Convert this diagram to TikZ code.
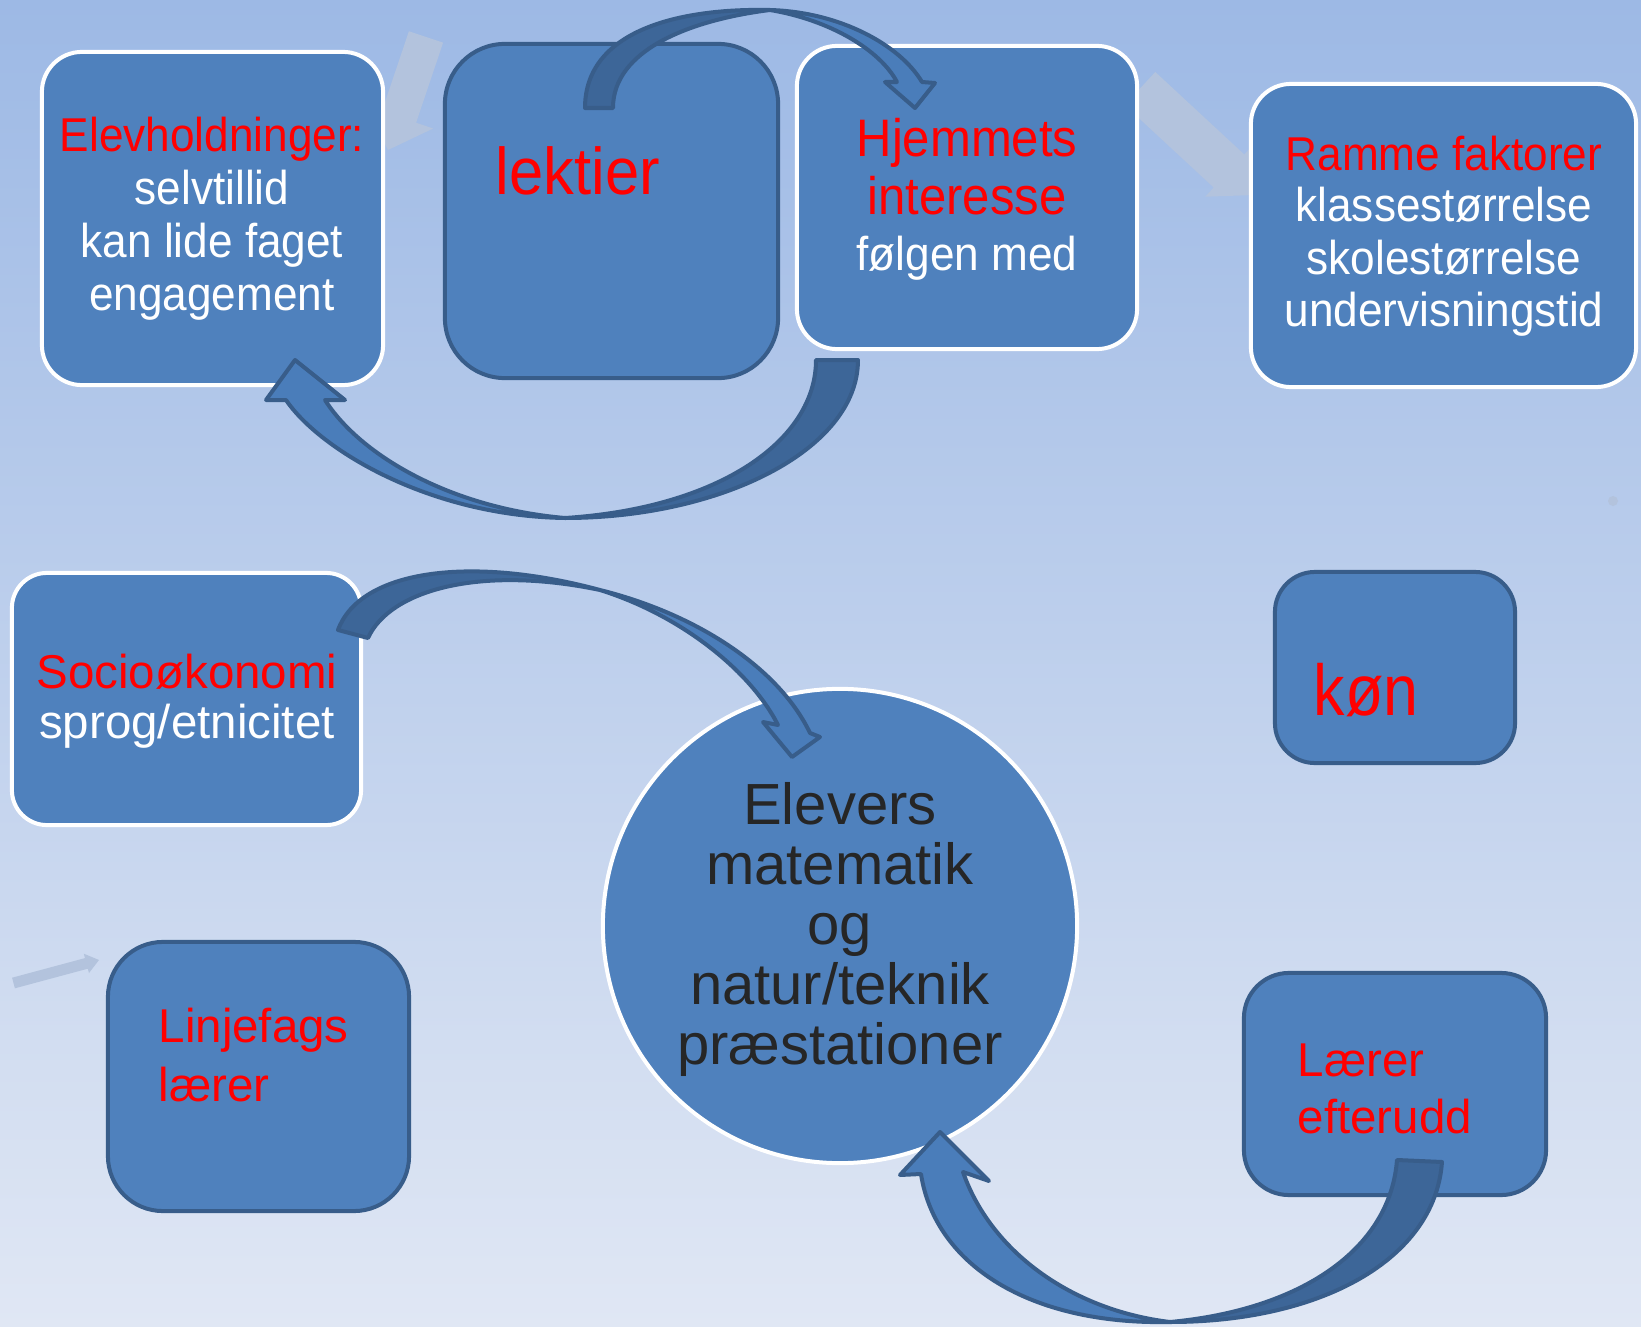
\documentclass[tikz,border=0pt]{standalone}
\usepackage{fontspec}
\setmainfont{Liberation Sans}
\newfontfamily\condfont[FakeStretch=0.93]{Liberation Sans}
\newfontfamily\konfont[FakeStretch=0.87]{Liberation Sans}
\definecolor{bgtop}{HTML}{9DB9E5}
\definecolor{bgbot}{HTML}{E0E7F4}
\definecolor{boxblue}{HTML}{4F81BD}
\definecolor{boxedge}{HTML}{385D8A}
\definecolor{arrback}{HTML}{3D6698}
\definecolor{arrfront}{HTML}{4A7DBA}
\definecolor{fadearrow}{HTML}{B3C3DD}
\definecolor{darktext}{HTML}{262626}

\begin{document}
\begin{tikzpicture}[x=0.01cm,y=-0.01cm,
  wbox/.style={fill=boxblue,draw=white,line width=0.04cm,inner sep=0},
  dbox/.style={fill=boxblue,draw=boxedge,line width=0.04cm,inner sep=0},
  back/.style={fill=arrback,draw=boxedge,line width=0.04cm,line join=round},
  front/.style={fill=arrfront,draw=boxedge,line width=0.04cm,line join=round},
  toptxt/.style={inner sep=0,align=center,anchor=base,font=\condfont\fontsize{13.5}{15}\selectfont},
  lowtxt/.style={inner sep=0,align=left,anchor=base west,text=red,font=\fontsize{13.5}{16}\selectfont}]
  \useasboundingbox (0,0) rectangle (1641,1327);
  \shade[top color=bgtop,bottom color=bgbot] (0,0) rectangle (1641,1327);

  \fill[fadearrow] (408.9,31.3) -- (443.1,42.7) -- (416.1,122.7) -- (433.1,128.5) -- (388,150)
    -- (364.9,105.5) -- (381.9,111.3) -- cycle;
  \fill[fadearrow] (1155.3,72) -- (1244.3,154.5) -- (1252.7,145.3) -- (1255,195)
    -- (1205.3,196.7) -- (1213.7,187.5) -- (1124.7,105) -- cycle;
  \fill[fadearrow] (12.1,977.7) -- (85,958.1) -- (83.8,953.7) -- (99,960)
    -- (89,973) -- (87.8,968.7) -- (14.9,988.3) -- cycle;
  \fill[fadearrow] (1613,501) circle (0.05cm);

  \node[wbox,minimum width=3.41cm,minimum height=3.33cm,rounded corners=0.4cm] (elev) at (212.5,218.5) {};
  \node[dbox,minimum width=3.33cm,minimum height=3.34cm,rounded corners=0.6cm] (lekt) at (611.5,211) {};
  \node[wbox,minimum width=3.40cm,minimum height=3.03cm,rounded corners=0.4cm] (hjem) at (967,197.5) {};
  \node[wbox,minimum width=3.85cm,minimum height=3.03cm,rounded corners=0.4cm] (ramme) at (1443.5,235.5) {};
  \node[wbox,minimum width=3.49cm,minimum height=2.52cm,rounded corners=0.35cm] (socio) at (186.5,699) {};
  \node[dbox,minimum width=3.01cm,minimum height=2.69cm,rounded corners=0.55cm] (linje) at (258.5,1076.5) {};
  \node[dbox,minimum width=2.40cm,minimum height=1.91cm,rounded corners=0.4cm] (kon) at (1395,667.5) {};
  \node[dbox,minimum width=3.02cm,minimum height=2.22cm,rounded corners=0.45cm] (laerer) at (1395,1084) {};
  \node[circle,fill=boxblue,draw=white,line width=0.04cm,minimum size=4.74cm,inner sep=0] (elevers) at (840,926) {};

  \node[toptxt,text=red] (elevhead) at (212,152) {Elevholdninger:};
  \node[toptxt,text=white] (elevlist) at (212,310) {selvtillid\\kan lide faget\\engagement};
  \node[inner sep=0,anchor=base west,text=red,font=\condfont\fontsize{18.8}{20}\selectfont] (lekttxt) at (495,194) {lektier};
  \node[toptxt,text=red,font=\condfont\fontsize{15}{16.5}\selectfont] (hjemhead) at (967,215) {Hjemmets\\interesse};
  \node[toptxt,text=white] (hjemlist) at (967,270) {følgen med};
  \node[toptxt,text=red] (rammehead) at (1444,170) {Ramme faktorer};
  \node[toptxt,text=white] (rammelist) at (1444,327) {klassestørrelse\\skolestørrelse\\undervisningstid};
  \node[inner sep=0,anchor=base,text=red,font=\fontsize{13.5}{14}\selectfont] (sociohead) at (187,688) {Socioøkonomi};
  \node[inner sep=0,anchor=base,text=white,font=\fontsize{13.5}{14}\selectfont] (sociolist) at (187,738) {sprog/etnicitet};
  \node[lowtxt,font=\fontsize{13.5}{16.5}\selectfont] (linjetxt) at (158,1101) {Linjefags\\lærer};
  \node[lowtxt,font=\konfont\fontsize{20.5}{22}\selectfont] (kontxt) at (1313,715) {køn};
  \node[lowtxt] (laerertxt) at (1297,1133) {Lærer\\efterudd};
  \node[inner sep=0,align=center,anchor=base,text=darktext,font=\fontsize{16.5}{17}\selectfont] (eleverstxt) at (840,1064)
    {Elevers\\matematik\\og\\natur/teknik\\præstationer};

  \filldraw[back] (585,108) .. controls (585,30) and (680,8) .. (770,10)
    .. controls (690,20) and (613,50) .. (613,108) -- cycle;
  \filldraw[front] (770,10) .. controls (840,12) and (900,45) .. (922,82) -- (935,83) -- (915,108)
    -- (885,82) -- (897,82) .. controls (880,50) and (830,20) .. (770,10) -- cycle;

  \filldraw[back] (816,360) -- (858,360) .. controls (858,450) and (720,518) .. (565,518)
    .. controls (720,508) and (816,440) .. (816,360) -- cycle;
  \filldraw[front] (565,518) .. controls (430,516) and (320,450) .. (286,400) -- (266,400) -- (295,360)
    -- (345,400) -- (325,400) .. controls (360,455) and (450,508) .. (565,518) -- cycle;

  \filldraw[back] (338,630) .. controls (360,570) and (470,555) .. (600,590)
    .. controls (480,565) and (390,590) .. (368,638) -- cycle;
  \filldraw[front] (600,590) .. controls (700,615) and (780,670) .. (810,733) -- (820,737) -- (792,757)
    -- (763,722) -- (778,725) .. controls (750,670) and (680,615) .. (600,590) -- cycle;

  \filldraw[back] (1397,1160) -- (1442,1162) .. controls (1435,1260) and (1320,1322) .. (1170,1322)
    .. controls (1300,1310) and (1390,1250) .. (1397,1160) -- cycle;
  \filldraw[front] (1170,1322) .. controls (1030,1325) and (935,1265) .. (921,1174) -- (900,1175) -- (940,1132)
    -- (989,1181) -- (963,1172) .. controls (990,1250) and (1070,1310) .. (1170,1322) -- cycle;
\end{tikzpicture}
\end{document}
